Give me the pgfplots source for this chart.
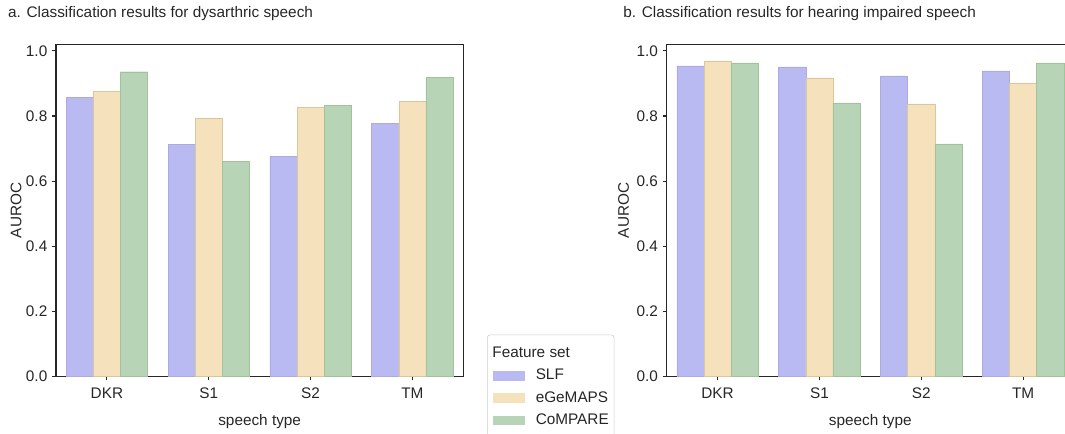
\documentclass[border=0pt]{standalone}
\usepackage{fontspec}
\setmainfont{Liberation Sans}
\usepackage{pgfplots}
\pgfplotsset{compat=1.18}
\definecolor{cslf}{HTML}{BABAF2}
\definecolor{cege}{HTML}{F5E1BC}
\definecolor{ccom}{HTML}{B8D4B7}
\definecolor{eslf}{HTML}{B0A8E0}
\definecolor{eege}{HTML}{D9C79A}
\definecolor{ecom}{HTML}{A2C29A}
\definecolor{spine}{HTML}{262626}
\pgfplotsset{
  myaxis/.style={
    scale only axis,
    width=305.5pt, height=249pt,
    ybar=0pt, bar width=0.266667,
    xmin=-0.5, xmax=3.5, ymin=0, ymax=1.02,
    xtick={0,1,2,3}, xticklabels={DKR,S1,S2,TM},
    ytick={0,0.2,0.4,0.6,0.8,1.0},
    yticklabel style={/pgf/number format/fixed, /pgf/number format/fixed zerofill, /pgf/number format/precision=1},
    /pgf/number format/assume math mode=true,
    tick align=outside, major tick length=3pt,
    xtick pos=bottom, ytick pos=left,
    tick style={spine, line width=0.8pt},
    axis line style={spine, line width=0.8pt},
    font=\fontsize{11.5}{13.8}\selectfont,
    ticklabel style={font=\fontsize{11.5}{13.8}\selectfont, text=black!85},
    xticklabel style={yshift=-2.2pt},
    xlabel={speech type}, ylabel={AUROC},
    xlabel style={at={(axis description cs:0.5,-0.1355)}, anchor=center, text=black!85},
    every axis title shift/.style={yshift=0pt},
    every axis title/.style={anchor=base west, text=black!85, inner sep=0pt},
    legend cell align=left,
  },
  pslf/.style={fill=cslf, draw=eslf, line width=0.3pt},
  pege/.style={fill=cege, draw=eege, line width=0.3pt},
  pcom/.style={fill=ccom, draw=ecom, line width=0.3pt},
}
\pgfplotstableread{
x slf ege com
0 0.857 0.875 0.936
1 0.712 0.792 0.660
2 0.675 0.826 0.832
3 0.777 0.844 0.918
}\dys
\pgfplotstableread{
x slf ege com
0 0.954 0.969 0.963
1 0.951 0.917 0.840
2 0.923 0.837 0.714
3 0.939 0.902 0.963
}\hear
\begin{document}
\begin{tikzpicture}[x=1pt,y=1pt]
\begin{axis}[myaxis, at={(42pt,43.2pt)}, anchor=south west,
  ylabel style={at={(axis description cs:-0.098,0.5)}, anchor=center, text=black!85},
  title={a. Classification results for dysarthric speech},
  title style={at={(axis description cs:-0.118,1.081)}, anchor=base west},
]
\addplot[pslf] table[x=x,y=slf]{\dys};
\addplot[pege] table[x=x,y=ege]{\dys};
\addplot[pcom] table[x=x,y=com]{\dys};
\end{axis}
\begin{axis}[myaxis, at={(500pt,43.2pt)}, anchor=south west,
  ylabel style={at={(axis description cs:-0.106,0.5)}, anchor=center, text=black!85},
  title={b. Classification results for hearing impaired speech},
  title style={at={(axis description cs:-0.107,1.0805)}, anchor=base west},
  legend style={at={(axis description cs:-0.4407,0.1257)}, anchor=north west,
    draw=black!20, rounded corners=2pt, fill=white, inner xsep=4pt, inner ysep=8.5pt,
    font=\fontsize{11.5}{13.8}\selectfont, text=black!85,
    row sep=5.7pt, column sep=0pt,
    nodes={text height=8.5pt, text depth=2.5pt, inner sep=0pt}},
  legend image code/.code={\path[#1, draw=none, sharp corners] (0pt,-3.6pt) rectangle (24pt,3.6pt);},
  legend style={/tikz/every odd column/.append style={column sep=8.25pt}},
]
\addlegendimage{empty legend}
\addlegendentry{\hspace*{-32.5pt}Feature set}
\addplot[pslf] table[x=x,y=slf]{\hear};
\addlegendentry{SLF}
\addplot[pege] table[x=x,y=ege]{\hear};
\addlegendentry{eGeMAPS}
\addplot[pcom] table[x=x,y=com]{\hear};
\addlegendentry{CoMPARE}
\end{axis}
\pgfresetboundingbox
\path[use as bounding box] (0pt,0pt) rectangle (798.75pt,325.5pt);
\end{tikzpicture}
\end{document}
